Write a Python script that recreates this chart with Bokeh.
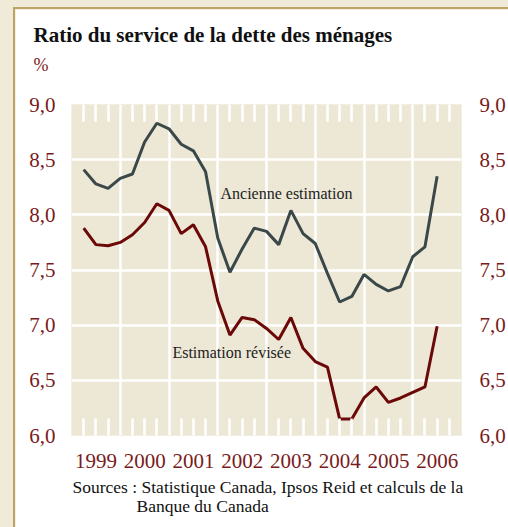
from bokeh.plotting import figure
from bokeh.models import Range1d, FixedTicker, LinearAxis, Label, Title, CustomJSTickFormatter
from bokeh.embed import file_html
from bokeh.resources import INLINE

# ---- data (quarterly, 1999T1 .. 2006T2) ----
years = [1999, 2000, 2001, 2002, 2003, 2004, 2005, 2006]
quarters = [(y, q) for y in years for q in (1, 2, 3, 4)][:30]
ancienne = [8.41, 8.28, 8.24, 8.33, 8.37, 8.66, 8.83, 8.78, 8.64, 8.58,
            8.39, 7.79, 7.48, 7.69, 7.88, 7.85, 7.73, 8.04, 7.83, 7.74,
            7.47, 7.21, 7.26, 7.46, 7.37, 7.31, 7.35, 7.62, 7.71, 8.35]
revisee = [7.88, 7.73, 7.72, 7.75, 7.82, 7.93, 8.10, 8.04, 7.83, 7.91,
           7.71, 7.22, 6.91, 7.07, 7.05, 6.97, 6.87, 7.07, 6.79, 6.67,
           6.62, 6.15, 6.15, 6.34, 6.44, 6.30, 6.34, 6.39, 6.44, 6.99]
y_ticks = [6.0, 6.5, 7.0, 7.5, 8.0, 8.5, 9.0]

title_text = "Ratio du service de la dette des ménages"
unit_text = "%"
label_old = "Ancienne estimation"
label_new = "Estimation révisée"
source1 = "Sources : Statistique Canada, Ipsos Reid et calculs de la"
source2 = "Banque du Canada"

x = [y + q / 4 for (y, q) in quarters]

RED_TXT = "#7A1B1B"
RED_LINE = "#6B0808"
GRAY_LINE = "#3A4849"
FILL = "#EDE8D6"
FONT = "Liberation Serif"

p = figure(frame_width=390, frame_height=331, x_range=Range1d(1999, 2007), y_range=Range1d(6, 9),
           output_backend="svg", toolbar_location=None,
           x_axis_location=None, y_axis_location=None,
           min_border_left=56, min_border_right=47, min_border_top=95, min_border_bottom=92)
p.background_fill_color = FILL
p.border_fill_color = "white"
p.outline_line_color = None
p.styles = {"margin-left": "13px", "margin-top": "7px",
            "border-left": "2px solid #B9A466", "border-top": "2px solid #B9A466"}

# grid
p.ygrid.ticker = FixedTicker(ticks=y_ticks[1:-1])
p.ygrid.grid_line_color = "white"
p.ygrid.grid_line_width = 2.5
p.xgrid.ticker = FixedTicker(ticks=years[1:])
p.xgrid.grid_line_color = "white"
p.xgrid.grid_line_width = 2.5

year_centers = [y + 0.5 for y in years]
quarter_ticks = [y + f for y in years for f in (0.25, 0.5, 0.75)]


def style_x(ax, show):
    ax.ticker = FixedTicker(ticks=year_centers, minor_ticks=quarter_ticks)
    ax.axis_line_color = None
    ax.major_tick_line_color = None
    ax.minor_tick_in = 17
    ax.minor_tick_out = 0
    ax.minor_tick_line_color = "white"
    ax.minor_tick_line_width = 2.5
    ax.major_label_text_font = FONT
    ax.major_label_text_color = RED_TXT
    if show:
        ax.formatter = CustomJSTickFormatter(code="return Math.floor(tick).toString();")
        ax.major_label_text_font_size = "21px"
        ax.major_label_standoff = 12
    else:
        ax.formatter = CustomJSTickFormatter(code="return '';")
        ax.major_label_text_font_size = "1px"
        ax.major_label_standoff = 0


def style_y(ax, standoff):
    ax.ticker = FixedTicker(ticks=y_ticks)
    ax.formatter = CustomJSTickFormatter(code="return tick.toFixed(1).replace('.', ',');")
    ax.axis_line_color = None
    ax.major_tick_line_color = None
    ax.minor_tick_line_color = None
    ax.major_label_text_font = FONT
    ax.major_label_text_font_size = "21px"
    ax.major_label_text_color = RED_TXT
    ax.major_label_standoff = standoff


xb = LinearAxis()
style_x(xb, True)
p.add_layout(xb, "below")
xt = LinearAxis()
style_x(xt, False)
p.add_layout(xt, "above")
yl = LinearAxis()
style_y(yl, 10)
p.add_layout(yl, "left")
yr = LinearAxis()
style_y(yr, 12)
p.add_layout(yr, "right")

p.line(x, ancienne, line_color=GRAY_LINE, line_width=3)
p.line(x, revisee, line_color=RED_LINE, line_width=3)

p.add_layout(Label(x=2002.056, y=8.193, text=label_old, text_font=FONT, text_font_size="16px",
                   text_color="#222222", text_baseline="middle"))
p.add_layout(Label(x=2001.07, y=6.752, text=label_new, text_font=FONT, text_font_size="16px",
                   text_color="#222222", text_baseline="middle"))

# titles (text outside the frame)
p.title.text = title_text
p.title.align = "left"
p.title.offset = -38
p.title.standoff = 7
p.title.text_font = FONT
p.title.text_font_size = "21px"
p.title.text_font_style = "bold"
p.title.text_color = "#111111"

# blank spacer between the top ticks and the unit label
p.add_layout(Title(text=" ", align="left", standoff=18, text_font=FONT,
                   text_font_size="1px", text_font_style="normal"), "above")
p.add_layout(Title(text=unit_text, align="left", offset=-38, standoff=5, text_font=FONT,
                   text_font_size="18px", text_font_style="normal", text_color=RED_TXT), "above")
p.add_layout(Title(text=source1, align="left", offset=1, standoff=8, text_font=FONT,
                   text_font_size="17.5px", text_font_style="normal", text_color="#111111"), "below")
p.add_layout(Title(text=source2, align="left", offset=65, standoff=-14, text_font=FONT,
                   text_font_size="17.5px", text_font_style="normal", text_color="#111111"), "below")

html = file_html(p, INLINE)
html = html.replace("</head>",
                    "<style>html,body{background:#F0EAD8 !important;overflow:hidden;margin:0}</style></head>", 1)
open("out.html", "w").write(html)
